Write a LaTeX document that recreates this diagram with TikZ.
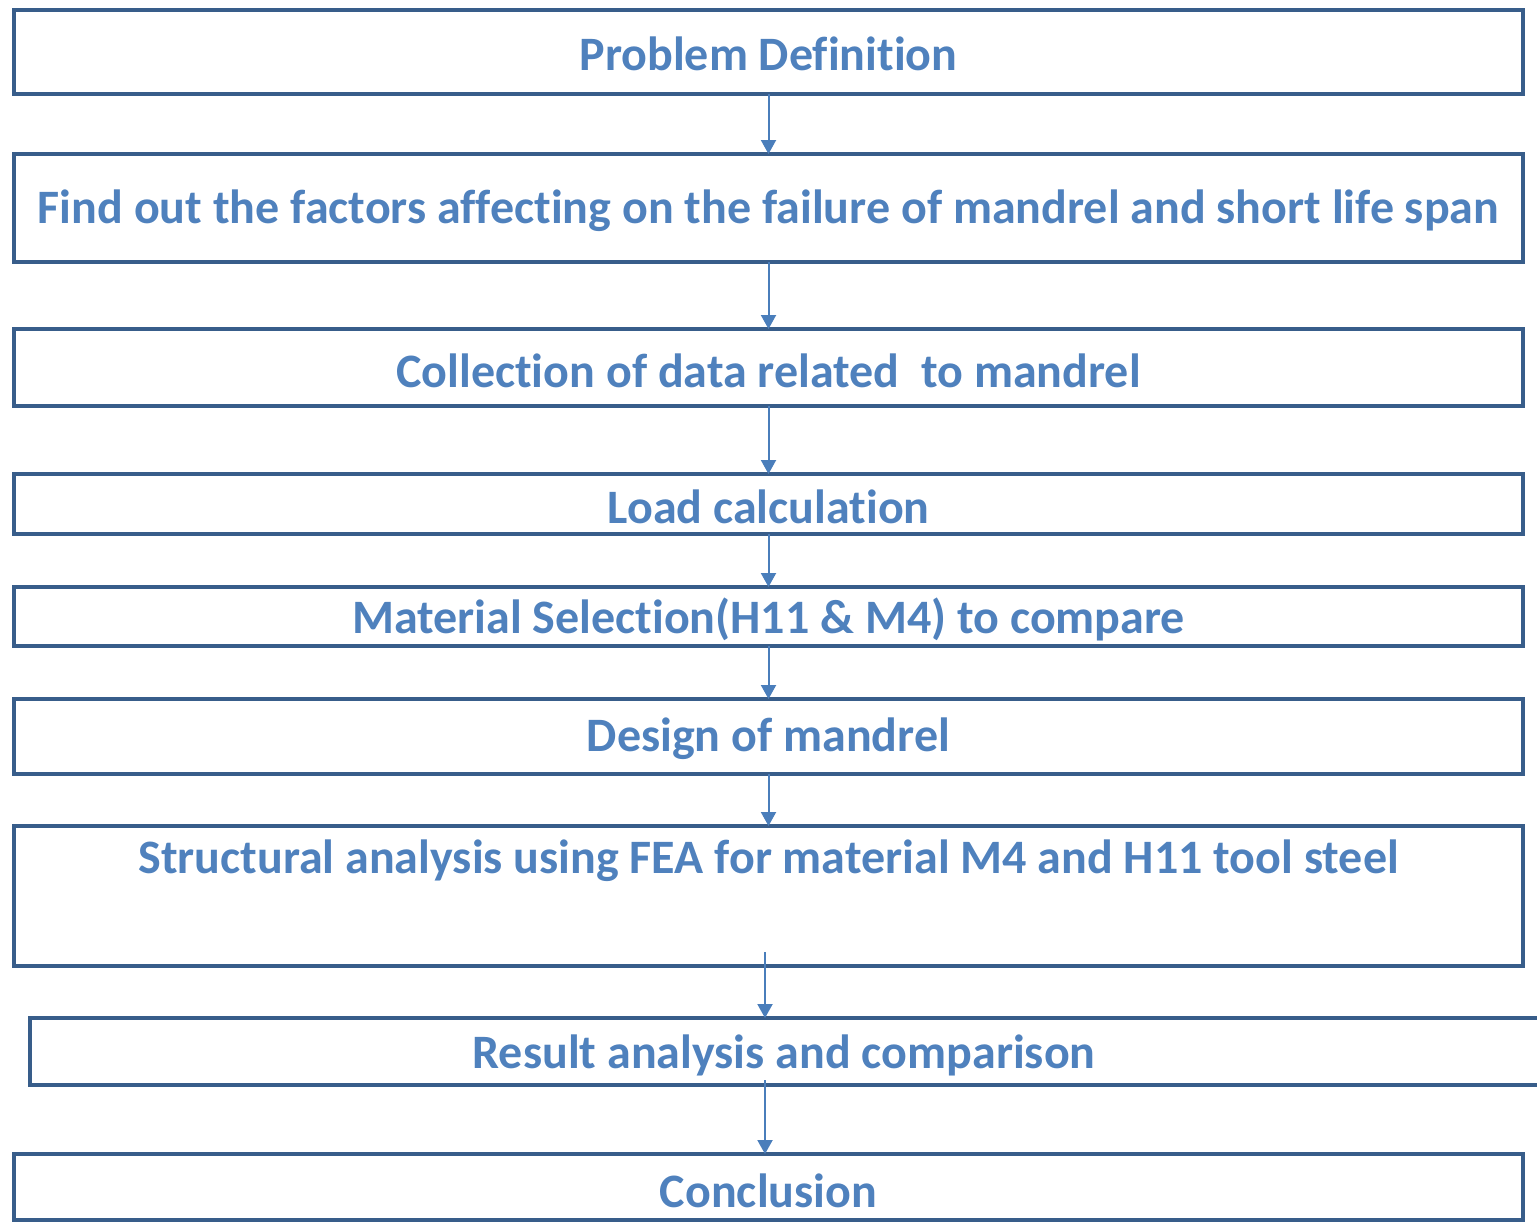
\documentclass[tikz,border=0pt]{standalone}
\usepackage{fontspec}
\setmainfont{Carlito}[RawFeature={-liga;-clig;-dlig;-calt;-rlig}]
\usetikzlibrary{arrows.meta,calc}
\definecolor{boxline}{HTML}{385D8A}
\definecolor{txtblue}{HTML}{4F81BD}
\definecolor{arrblue}{HTML}{4A7EBB}
\begin{document}
\begin{tikzpicture}[x=1pt,y=-1pt,
  txt/.style={font=\fontsize{48}{54}\selectfont\bfseries,text=txtblue},
  stepbox/.style={draw=boxline,line width=4pt,minimum width=1509pt,inner sep=0pt,outer sep=0pt,txt},
  flow/.style={draw=arrblue,line width=2pt,-{Triangle[width=15pt,length=14pt]}}]
\useasboundingbox (0,0) rectangle (1537,1224);
\node[stepbox,minimum height=84pt] (b1) at (768.5,52) {};
\node[txt] (t1) at (768.5,54) {Problem Definition};
\node[stepbox,minimum height=108pt] (b2) at (768.5,208) {};
\node[txt] (t2) at (768.5,211) {Find out the factors affecting on the failure of mandrel and short life span};
\node[stepbox,minimum height=77pt] (b3) at (768.5,367.5) {};
\node[txt] (t3) at (768.5,371) {Collection of data related\ \ to mandrel};
\node[stepbox,minimum height=60pt] (b4) at (768.5,504) {};
\node[txt] (t4) at (768.5,507) {Load calculation};
\node[stepbox,minimum height=59pt] (b5) at (768.5,616.5) {};
\node[txt] (t5) at (768.5,619) {Material Selection(H11 \& M4) to compare};
\node[stepbox,minimum height=75pt] (b6) at (768.5,736.5) {};
\node[txt] (t6) at (768.5,739) {Design of mandrel};
\node[stepbox,minimum height=140pt] (b7) at (768.5,896) {};
\node[txt] (t7) at (768.5,861) {Structural analysis using FEA for material M4 and H11 tool steel};
\node[stepbox,minimum width=1515pt,minimum height=67pt] (b8) at (787.5,1051.5) {};
\node[txt] (t8) at (784,1055) {Result analysis and comparison};
\node[stepbox,minimum height=66pt] (b9) at (768.5,1187) {};
\node[txt] (t9) at (768.5,1191) {Conclusion};
\coordinate (s7) at (765,952);
\coordinate (s8) at (765,1080);
\draw[flow] (b1) -- (b2);
\draw[flow] (b2) -- (b3);
\draw[flow] (b3) -- (b4);
\draw[flow] (b4) -- (b5);
\draw[flow] (b5) -- (b6);
\draw[flow] (b6) -- (b7);
\draw[flow] (s7) -- (s7 |- b8.north);
\draw[flow] (s8) -- (s8 |- b9.north);
\end{tikzpicture}
\end{document}
